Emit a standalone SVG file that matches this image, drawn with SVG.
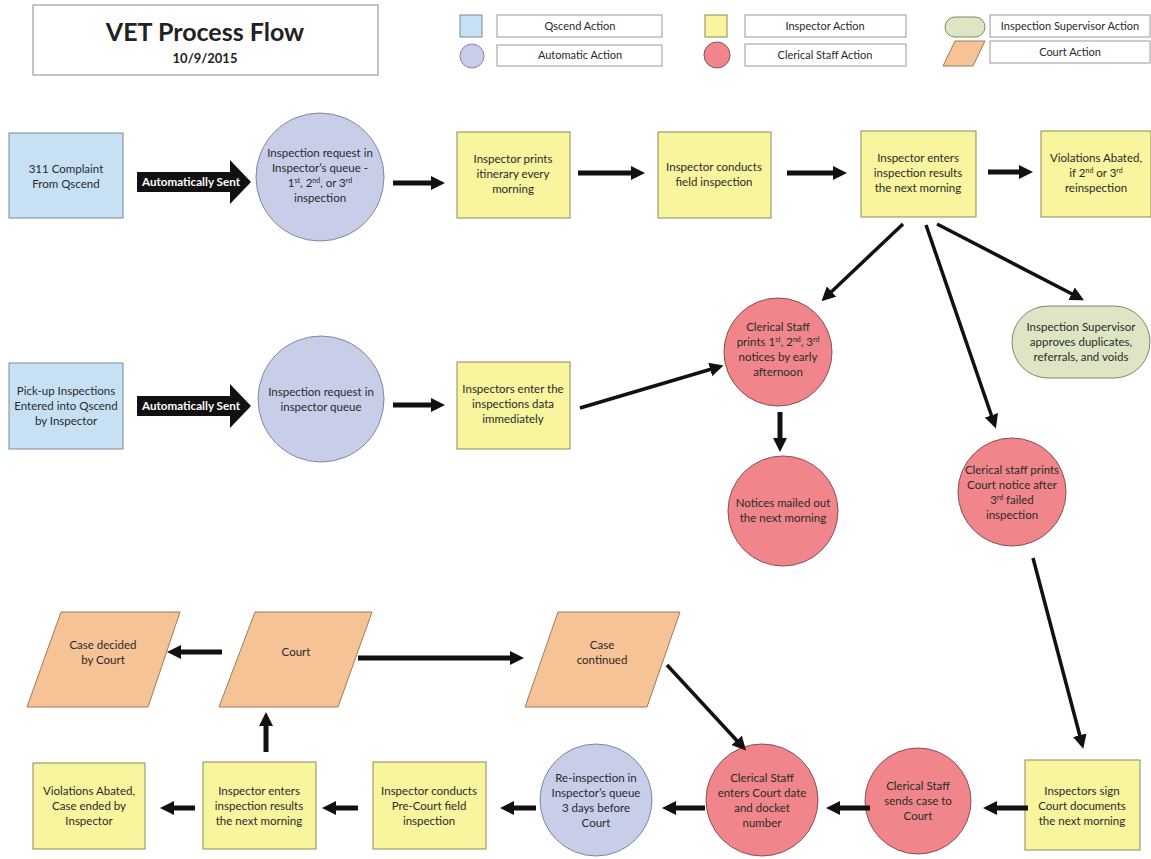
<svg xmlns="http://www.w3.org/2000/svg" width="1151" height="859" viewBox="0 0 1151 859">
<defs>
<style>
text{font-family:Lato,"Liberation Sans",sans-serif;font-size:11px;fill:#2a2a2a;text-anchor:middle}
.t{font-size:11.5px}
.qs{fill:#c7e0f3;stroke:#7a8a99;stroke-width:1}
.auto{fill:#c8cde8;stroke:#7f86a6;stroke-width:1}
.ins{fill:#f8f59e;stroke:#8b8a5a;stroke-width:1}
.cl{fill:#f0868c;stroke:#8a5050;stroke-width:1}
.sup{fill:#dde5c5;stroke:#7d8a6a;stroke-width:1}
.ct{fill:#f5c396;stroke:#a07a5a;stroke-width:1}
.lg{fill:#fff;stroke:#9a9a9a;stroke-width:1}
.c5{stroke:#111;stroke-width:5;fill:none}
.c4{stroke:#111;stroke-width:3.5;fill:none}
.ba{fill:#111}
.bt{fill:#fff;font-weight:bold;font-size:11px}
.sp{font-size:7px}
</style>
<marker id="ah" markerWidth="14" markerHeight="14" refX="5" refY="7" orient="auto" markerUnits="userSpaceOnUse"><path d="M0,0 L14,7 L0,14 z" fill="#111"/></marker>
</defs>

<g id="title">
<rect x="33" y="5" width="345" height="70" fill="#fff" stroke="#888" stroke-width="1"/>
<text x="205" y="41" style="font-size:25px;font-weight:bold;fill:#222">VET Process Flow</text>
<text x="205" y="63" style="font-size:13px;font-weight:bold;fill:#222">10/9/2015</text>
</g>

<g id="legend">
<rect class="qs" x="460" y="15" width="22" height="22"/>
<rect class="lg" x="497" y="15" width="165" height="22"/>
<text x="580" y="30">Qscend Action</text>
<circle class="auto" cx="472" cy="56" r="12"/>
<rect class="lg" x="497" y="45" width="165" height="21"/>
<text x="580" y="59">Automatic Action</text>
<rect class="ins" x="705" y="15" width="22" height="22"/>
<rect class="lg" x="745" y="15" width="161" height="22"/>
<text x="825" y="30">Inspector Action</text>
<circle class="cl" cx="717" cy="55" r="13"/>
<rect class="lg" x="745" y="44" width="161" height="22"/>
<text x="825" y="59">Clerical Staff Action</text>
<rect class="sup" x="945" y="17" width="40" height="20" rx="10"/>
<rect class="lg" x="990" y="15" width="160" height="22"/>
<text x="1070" y="30">Inspection Supervisor Action</text>
<polygon class="ct" points="955,41 985,41 973,66 943,66"/>
<rect class="lg" x="990" y="41" width="160" height="22"/>
<text x="1070" y="56">Court Action</text>
</g>

<g id="n311">
<rect class="qs" x="9" y="133" width="114" height="85"/>
<text class="t" x="66" y="173">311 Complaint</text>
<text class="t" x="66" y="188">From Qscend</text>
</g>

<g id="sent1">
<polygon class="ba" points="137,172 230,172 230,160 251,182 230,204 230,192 137,192"/>
<text class="bt" x="191" y="186" textLength="98" lengthAdjust="spacingAndGlyphs">Automatically Sent</text>
</g>

<g id="queue1">
<circle class="auto" cx="320" cy="177" r="64"/>
<text class="t" x="320" y="157">Inspection request in</text>
<text class="t" x="320" y="172">Inspector’s queue -</text>
<text class="t" x="320" y="187">1<tspan class="sp" dy="-4">st</tspan><tspan dy="4">, 2</tspan><tspan class="sp" dy="-4">nd</tspan><tspan dy="4">, or 3</tspan><tspan class="sp" dy="-4">rd</tspan></text>
<text class="t" x="320" y="202">inspection</text>
</g>

<g id="prints">
<rect class="ins" x="457" y="132" width="113" height="86"/>
<text class="t" x="513" y="163">Inspector prints</text>
<text class="t" x="513" y="178">itinerary every</text>
<text class="t" x="513" y="193">morning</text>
</g>

<g id="conducts">
<rect class="ins" x="658" y="132" width="113" height="86"/>
<text class="t" x="714" y="171">Inspector conducts</text>
<text class="t" x="714" y="186">field inspection</text>
</g>

<g id="enters">
<rect class="ins" x="861" y="131" width="115" height="86"/>
<text class="t" x="918" y="162">Inspector enters</text>
<text class="t" x="918" y="177">inspection results</text>
<text class="t" x="918" y="192">the next morning</text>
</g>

<g id="abated1">
<rect class="ins" x="1041" y="131" width="110" height="86"/>
<text class="t" x="1096" y="162">Violations Abated,</text>
<text class="t" x="1096" y="177">if 2<tspan class="sp" dy="-4">nd</tspan><tspan dy="4"> or 3</tspan><tspan class="sp" dy="-4">rd</tspan></text>
<text class="t" x="1096" y="192">reinspection</text>
</g>

<g id="pickup">
<rect class="qs" x="9" y="363" width="114" height="86"/>
<text class="t" x="66" y="395">Pick-up Inspections</text>
<text class="t" x="66" y="410">Entered into Qscend</text>
<text class="t" x="66" y="425">by Inspector</text>
</g>

<g id="sent2">
<polygon class="ba" points="137,396 230,396 230,384 251,406 230,428 230,416 137,416"/>
<text class="bt" x="191" y="410" textLength="98" lengthAdjust="spacingAndGlyphs">Automatically Sent</text>
</g>

<g id="queue2">
<circle class="auto" cx="321" cy="399" r="63"/>
<text class="t" x="321" y="396">Inspection request in</text>
<text class="t" x="321" y="411">inspector queue</text>
</g>

<g id="enterdata">
<rect class="ins" x="457" y="362" width="113" height="87"/>
<text class="t" x="513" y="393">Inspectors enter the</text>
<text class="t" x="513" y="408">inspections data</text>
<text class="t" x="513" y="423">immediately</text>
</g>

<g id="clerical1">
<circle class="cl" cx="778" cy="352" r="54"/>
<text class="t" x="778" y="331">Clerical Staff</text>
<text class="t" x="778" y="346">prints 1<tspan class="sp" dy="-4">st</tspan><tspan dy="4">, 2</tspan><tspan class="sp" dy="-4">nd</tspan><tspan dy="4">, 3</tspan><tspan class="sp" dy="-4">rd</tspan></text>
<text class="t" x="778" y="361">notices by early</text>
<text class="t" x="778" y="376">afternoon</text>
</g>

<g id="mailed">
<circle class="cl" cx="783" cy="511" r="55"/>
<text class="t" x="783" y="507">Notices mailed out</text>
<text class="t" x="783" y="522">the next morning</text>
</g>

<g id="supervisor">
<rect class="sup" x="1012" y="306" width="138" height="72" rx="36"/>
<text class="t" x="1081" y="331">Inspection Supervisor</text>
<text class="t" x="1081" y="346">approves duplicates,</text>
<text class="t" x="1081" y="361">referrals, and voids</text>
</g>

<g id="courtnotice">
<circle class="cl" cx="1012" cy="492" r="54"/>
<text class="t" x="1012" y="474">Clerical staff prints</text>
<text class="t" x="1012" y="489">Court notice after</text>
<text class="t" x="1012" y="504">3<tspan class="sp" dy="-4">rd</tspan><tspan dy="4"> failed</tspan></text>
<text class="t" x="1012" y="519">inspection</text>
</g>

<g id="decided">
<polygon class="ct" points="61,612 180,612 148,707 27,707"/>
<text class="t" x="103" y="649">Case decided</text>
<text class="t" x="103" y="664">by Court</text>
</g>

<g id="court">
<polygon class="ct" points="255,612 372,612 338,707 219,707"/>
<text class="t" x="296" y="656">Court</text>
</g>

<g id="continued">
<polygon class="ct" points="558,612 680,612 647,707 525,707"/>
<text class="t" x="602" y="649">Case</text>
<text class="t" x="602" y="664">continued</text>
</g>

<g id="abated2">
<rect class="ins" x="33" y="763" width="112" height="86"/>
<text class="t" x="89" y="795">Violations Abated,</text>
<text class="t" x="89" y="810">Case ended by</text>
<text class="t" x="89" y="825">Inspector</text>
</g>

<g id="enters2">
<rect class="ins" x="203" y="762" width="113" height="87"/>
<text class="t" x="259" y="795">Inspector enters</text>
<text class="t" x="259" y="810">inspection results</text>
<text class="t" x="259" y="825">the next morning</text>
</g>

<g id="precourt">
<rect class="ins" x="373" y="762" width="113" height="87"/>
<text class="t" x="429" y="795">Inspector conducts</text>
<text class="t" x="429" y="810">Pre-Court field</text>
<text class="t" x="429" y="825">inspection</text>
</g>

<g id="reinspect">
<circle class="auto" cx="596" cy="800" r="56"/>
<text class="t" x="596" y="782">Re-inspection in</text>
<text class="t" x="596" y="797">Inspector’s queue</text>
<text class="t" x="596" y="812">3 days before</text>
<text class="t" x="596" y="827">Court</text>
</g>

<g id="docket">
<circle class="cl" cx="762" cy="800" r="56"/>
<text class="t" x="762" y="782">Clerical Staff</text>
<text class="t" x="762" y="797">enters Court date</text>
<text class="t" x="762" y="812">and docket</text>
<text class="t" x="762" y="827">number</text>
</g>

<g id="sends">
<circle class="cl" cx="918" cy="801" r="53"/>
<text class="t" x="918" y="790">Clerical Staff</text>
<text class="t" x="918" y="805">sends case to</text>
<text class="t" x="918" y="820">Court</text>
</g>

<g id="sign">
<rect class="ins" x="1025" y="760" width="115" height="90"/>
<text class="t" x="1082" y="795">Inspectors sign</text>
<text class="t" x="1082" y="810">Court documents</text>
<text class="t" x="1082" y="825">the next morning</text>
</g>

<g id="connectors">
<line class="c5" x1="393" y1="183" x2="436" y2="183" marker-end="url(#ah)"/>
<line class="c5" x1="578" y1="173" x2="636" y2="173" marker-end="url(#ah)"/>
<line class="c5" x1="787" y1="173" x2="838" y2="173" marker-end="url(#ah)"/>
<line class="c5" x1="988" y1="172" x2="1024" y2="172" marker-end="url(#ah)"/>
<line class="c4" x1="903" y1="224" x2="828" y2="295" marker-end="url(#ah)"/>
<line class="c4" x1="926" y1="225" x2="993" y2="420" marker-end="url(#ah)"/>
<line class="c4" x1="937" y1="224" x2="1076" y2="296" marker-end="url(#ah)"/>
<line class="c5" x1="393" y1="405" x2="436" y2="405" marker-end="url(#ah)"/>
<line class="c4" x1="580" y1="408" x2="715" y2="368" marker-end="url(#ah)"/>
<line class="c5" x1="780" y1="412" x2="780" y2="443" marker-end="url(#ah)"/>
<line class="c4" x1="1033" y1="558" x2="1081" y2="740" marker-end="url(#ah)"/>
<line class="c4" x1="667" y1="665" x2="740" y2="744" marker-end="url(#ah)"/>
<line class="c5" x1="222" y1="652" x2="176" y2="652" marker-end="url(#ah)"/>
<line class="c5" x1="358" y1="658" x2="515" y2="658" marker-end="url(#ah)"/>
<line class="c5" x1="266" y1="752" x2="266" y2="721" marker-end="url(#ah)"/>
<line class="c5" x1="1028" y1="808" x2="992" y2="808" marker-end="url(#ah)"/>
<line class="c5" x1="870" y1="808" x2="835" y2="808" marker-end="url(#ah)"/>
<line class="c5" x1="705" y1="808" x2="671" y2="808" marker-end="url(#ah)"/>
<line class="c5" x1="536" y1="808" x2="509" y2="808" marker-end="url(#ah)"/>
<line class="c5" x1="358" y1="808" x2="331" y2="808" marker-end="url(#ah)"/>
<line class="c5" x1="195" y1="808" x2="169" y2="808" marker-end="url(#ah)"/>
</g>
</svg>
